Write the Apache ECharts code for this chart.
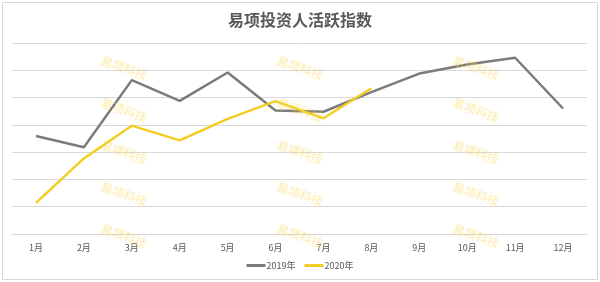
<!DOCTYPE html>
<html>
<head>
<meta charset="utf-8">
<script src="https://cdn.jsdelivr.net/npm/echarts@6/dist/echarts.min.js"></script>
<style>html,body{margin:0;padding:0;background:#fff}#c{width:600px;height:282px}</style>
</head>
<body>
<div id="c"></div>
<script>
const categories = ['1月','2月','3月','4月','5月','6月','7月','8月','9月','10月','11月','12月'];
const series2019 = [35.9, 31.8, 56.4, 48.8, 59.2, 45.3, 44.8, 52.0, 58.8, 62.1, 64.6, 46.0];
const series2020 = [11.4, 27.7, 39.7, 34.3, 42.2, 48.7, 42.4, 53.4];
const seriesNames = ['2019年', '2020年'];
const titleText = '易项投资人活跃指数';
const watermarkText = '易项科技';

const wmX = [124, 300, 476];
const wmY = [68, 110, 152, 194, 236];
const graphics = [{
  type: 'rect', shape: {x: 2.5, y: 2.5, width: 595, height: 277},
  style: {fill: 'none', stroke: '#d9d9d9', lineWidth: 1}, z: 0
}];
wmX.forEach(x => wmY.forEach(y => {
  graphics.push({
    type: 'text', x: x, y: y, rotation: -0.33, z: 100, silent: true,
    style: {text: watermarkText, fill: 'rgba(247,215,80,0.35)', font: 'bold 12px "Noto Sans CJK SC"', align: 'center', verticalAlign: 'middle'}
  });
}));

const chart = echarts.init(document.getElementById('c'));
chart.setOption({
  animation: false,
  backgroundColor: '#fff',
  title: {text: titleText, left: 'center', top: 7,
    textStyle: {fontSize: 16, fontWeight: 'bold', color: '#595959', fontFamily: '"Noto Sans CJK SC"'}},
  grid: {left: 12, right: 13, top: 43, bottom: 48, containLabel: false},
  legend: {data: seriesNames, bottom: 7, left: 'center', itemWidth: 19, itemHeight: 3, itemGap: 9, icon: 'rect',
    textStyle: {fontSize: 9, color: '#595959', fontFamily: '"Noto Sans CJK SC"', padding: [0,0,0,-4]}},
  xAxis: {type: 'category', data: categories, boundaryGap: true,
    axisLine: {lineStyle: {color: '#d9d9d9'}}, axisTick: {show: false},
    axisLabel: {fontSize: 9, color: '#595959', margin: 9, fontFamily: '"Noto Sans CJK SC"'}},
  yAxis: {type: 'value', min: 0, max: 70, interval: 10, axisLabel: {show: false},
    axisLine: {show: false}, axisTick: {show: false},
    splitLine: {lineStyle: {color: '#d9d9d9'}}},
  series: [
    {name: seriesNames[0], type: 'line', data: series2019, symbol: 'none', lineStyle: {width: 2.5, color: '#7b7b7b'}, itemStyle: {color: '#7b7b7b'}, z: 3},
    {name: seriesNames[1], type: 'line', data: series2020, symbol: 'none', lineStyle: {width: 2.5, color: '#f2cd22'}, itemStyle: {color: '#f2cd22'}, z: 4}
  ],
  graphic: graphics
});
</script>
</body>
</html>
